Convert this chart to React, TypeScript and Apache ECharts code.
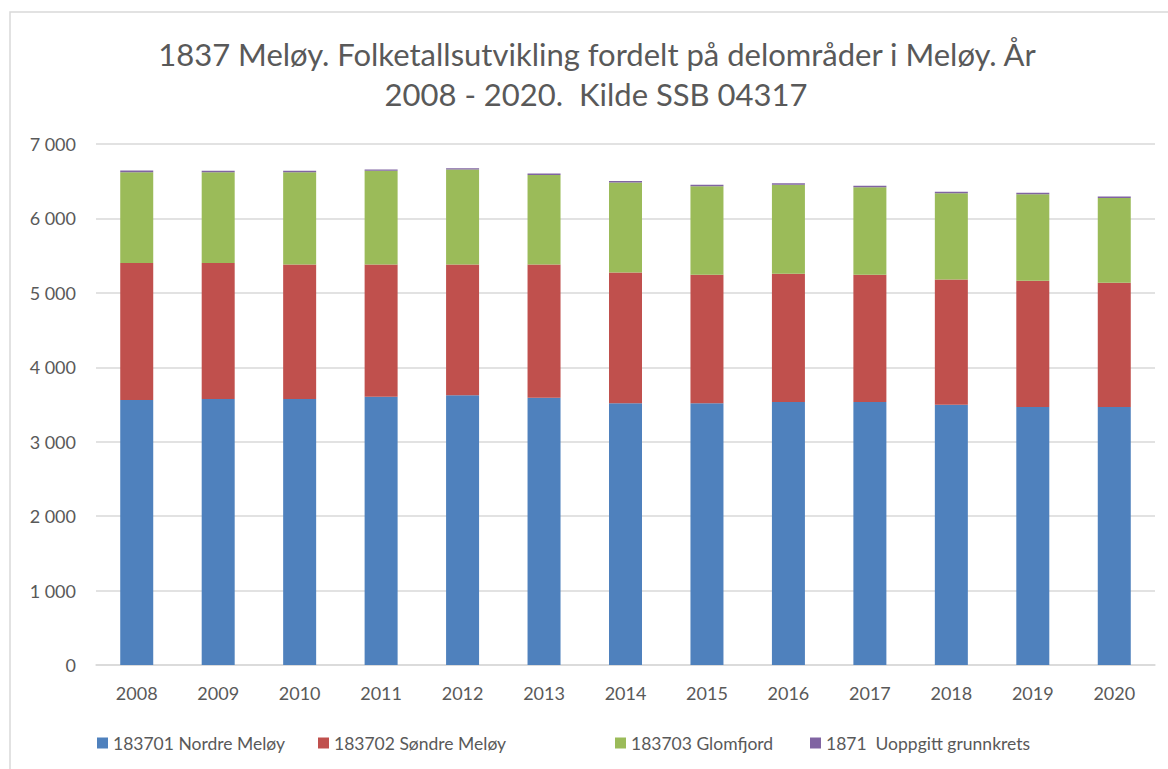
import React, { useEffect, useRef } from "react";
import * as echarts from "echarts";

const years = ["2008", "2009", "2010", "2011", "2012", "2013", "2014", "2015", "2016", "2017", "2018", "2019", "2020"];
const nordre = [3561, 3574, 3574, 3605, 3623, 3592, 3516, 3516, 3534, 3534, 3498, 3467, 3467];
const sondre = [1839, 1826, 1807, 1776, 1758, 1789, 1757, 1726, 1722, 1708, 1681, 1695, 1668];
const glomfjord = [1221, 1221, 1240, 1258, 1276, 1204, 1209, 1191, 1195, 1178, 1160, 1164, 1141];
const uoppgitt = [22, 20, 20, 20, 18, 20, 20, 20, 20, 20, 20, 20, 18];

const seriesNames = ["183701 Nordre Meløy", "183702 Søndre Meløy", "183703 Glomfjord", "1871  Uoppgitt grunnkrets"];
const colors = ["#4F81BD", "#C0504D", "#9BBB59", "#8064A2"];
const titleLines = ["1837 Meløy. Folketallsutvikling fordelt på delområder i Meløy. År", "2008 - 2020.  Kilde SSB 04317"];

const FONT = "Lato";
const TXT = "#595959";

export default function App() {
  const ref = useRef<HTMLDivElement>(null);
  useEffect(() => {
    if (!ref.current) return;
    const chart = echarts.init(ref.current, undefined, { renderer: "svg" });
    const dataSets = [nordre, sondre, glomfjord, uoppgitt];
    const legendLeft = [97, 318, 615, 810];
    chart.setOption({
      animation: false,
      backgroundColor: "#ffffff",
      textStyle: { fontFamily: FONT },
      grid: { left: 96, right: 13, top: 144, bottom: 104, containLabel: false },
      graphic: [
        { type: "rect", shape: { x: 10, y: 12, width: 1200, height: 800 }, style: { fill: "none", stroke: "#d9d9d9", lineWidth: 1.5 }, silent: true },
        { type: "text", x: 597, y: 54, style: { text: titleLines[0], fill: TXT, font: `31px ${FONT}`, align: "center", verticalAlign: "middle" } },
        { type: "text", x: 596, y: 94, style: { text: titleLines[1], fill: TXT, font: `31px ${FONT}`, align: "center", verticalAlign: "middle" } },
      ],
      legend: seriesNames.map((n, i) => ({
        data: [n],
        left: legendLeft[i],
        top: 734,
        padding: 0,
        icon: "rect",
        itemWidth: 11,
        itemHeight: 11,
        itemGap: 4,
        textStyle: { color: TXT, fontSize: 17.5, fontFamily: FONT },
      })),
      xAxis: {
        type: "category",
        data: years,
        axisLine: { lineStyle: { color: "#d9d9d9", width: 1.5 } },
        axisTick: { show: false },
        axisLabel: { color: TXT, fontSize: 18, fontFamily: FONT, margin: 19 },
      },
      yAxis: {
        type: "value",
        min: 0,
        max: 7000,
        interval: 1000,
        axisLine: { show: false },
        axisTick: { show: false },
        splitLine: { lineStyle: { color: "#d9d9d9", width: 1.5 } },
        axisLabel: {
          color: TXT,
          fontSize: 18,
          fontFamily: FONT,
          margin: 20,
          formatter: (v: number) => String(v).replace(/\B(?=(\d{3})+(?!\d))/g, " "),
        },
      },
      series: seriesNames.map((n, i) => ({
        name: n,
        type: "bar",
        stack: "total",
        data: dataSets[i],
        barWidth: 33,
        itemStyle: { color: colors[i] },
      })),
    });
    return () => chart.dispose();
  }, []);
  return <div ref={ref} style={{ width: 1168, height: 769, position: "absolute", left: 0, top: 0 }} />;
}
